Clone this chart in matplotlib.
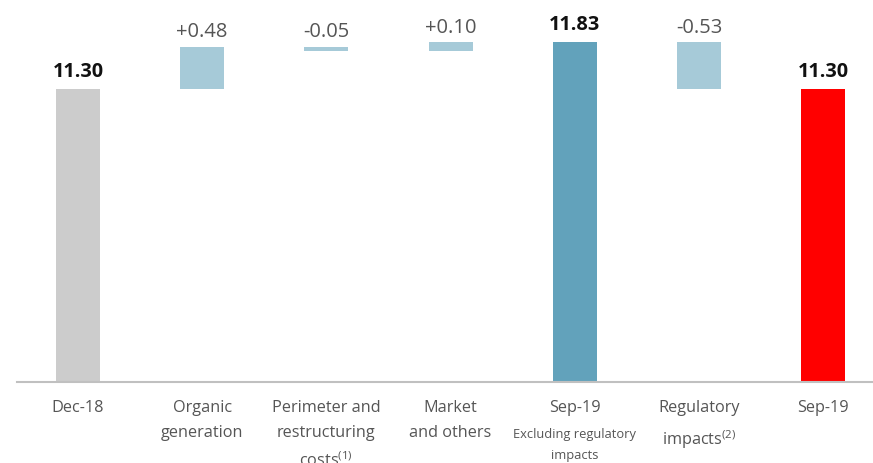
import numpy as np
import matplotlib.pyplot as plt
import matplotlib.transforms as mtransforms

plt.rcParams['font.family'] = ['Open Sans', 'DejaVu Sans']
plt.rcParams['mathtext.fontset'] = 'custom'
plt.rcParams['mathtext.rm'] = 'Open Sans'

# data
categories = ['Dec-18', 'Organic\ngeneration', 'Perimeter and\nrestructuring\ncosts',
              'Market\nand others', 'Sep-19', 'Regulatory\nimpacts', 'Sep-19']
sublabels = ['', '', '', '', 'Excluding regulatory\nimpacts', '', '']
superscripts = ['', '', '(1)', '', '', '(2)', '']
values = [11.30, 0.48, -0.05, 0.10, 11.83, -0.53, 11.30]
is_total = [True, False, False, False, True, False, True]
value_labels = ['11.30', '+0.48', '-0.05', '+0.10', '11.83', '-0.53', '11.30']

colors = ['#cccccc', '#a6cad8', '#a6cad8', '#a6cad8', '#62a2bb', '#a6cad8', '#ff0000']

fig = plt.figure(figsize=(8.73, 4.64), dpi=100)
ax = fig.add_axes([0.0195, 0.1746, 0.9805, 0.8254])

ymin = 8.0
x = np.arange(len(categories))
bottoms = []
heights = []
running = 0
for v, tot in zip(values, is_total):
    if tot:
        bottoms.append(ymin)
        heights.append(v - ymin)
        running = v
    else:
        bottoms.append(running if v > 0 else running + v)
        heights.append(abs(v))
        running += v

ax.bar(x, heights, bottom=bottoms, width=0.355, color=colors, zorder=2)

for i in range(len(x)):
    top = bottoms[i] + heights[i]
    if is_total[i]:
        ax.annotate(value_labels[i], (x[i], top), xytext=(0, 6), textcoords='offset points',
                    ha='center', va='bottom', fontsize=14.3, fontweight='bold', color='#111111')
    else:
        ax.annotate(value_labels[i], (x[i], top), xytext=(0, 4), textcoords='offset points',
                    ha='center', va='bottom', fontsize=14.5, color='#555555')

ax.set_xlim(-0.49, 6.4)
ax.set_ylim(ymin, 12.32)
for s in ['top', 'right', 'left']:
    ax.spines[s].set_visible(False)
ax.spines['bottom'].set_color('#c0c0c0')
ax.spines['bottom'].set_linewidth(1.5)
ax.set_yticks([])
ax.set_xticks([])

# category labels under the axis
trans = mtransforms.blended_transform_factory(ax.transData, ax.transAxes)
for i, lab in enumerate(categories):
    txt = lab
    if superscripts[i]:
        txt = txt + '$^{' + superscripts[i] + '}$'
    ax.text(x[i], -0.045, txt, transform=trans, ha='center', va='top',
            fontsize=11.7, color='#555555', linespacing=1.7)
    if sublabels[i]:
        ax.text(x[i], -0.117, sublabels[i], transform=trans, ha='center', va='top',
                fontsize=9.3, color='#555555', linespacing=1.85)

fig.savefig('out.png', dpi=100)
